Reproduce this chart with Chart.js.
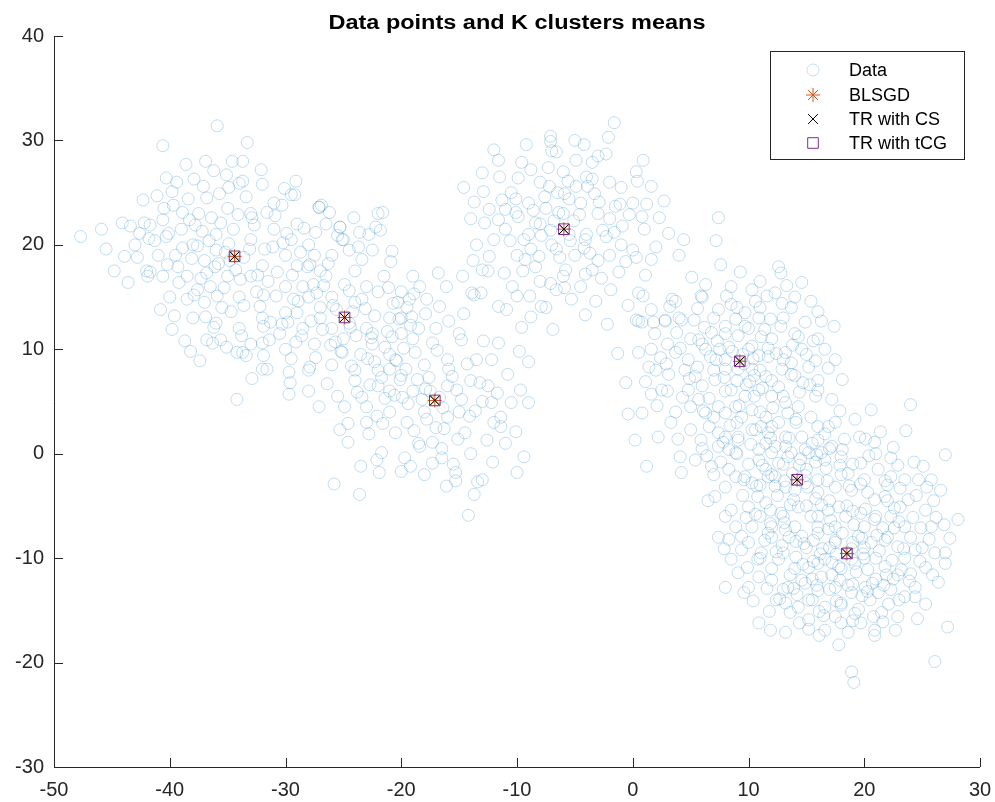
<!DOCTYPE html>
<html>
<head>
<meta charset="utf-8">
<title>Data points and K clusters means</title>
<script src="https://cdn.jsdelivr.net/npm/chart.js@4/dist/chart.umd.min.js"></script>
<style>
  html, body { margin: 0; padding: 0; background: #ffffff; }
  #wrap { width: 995px; height: 802px; }
</style>
</head>
<body>
<div id="wrap"><canvas id="c" width="995" height="802"></canvas></div>
<script>
// ---- sample points, grouped by the region of the plane they sit in ----
const groupNorthWest = [
  [-47.7,20.8],[-45.5,19.6],[-44.8,17.5],[-35.9,31.4],[-40.6,29.5],[-36.9,28.0],[-40.3,26.4],[-39.4,26.0],
  [-39.8,25.1],[-37.1,25.6],[-34.9,25.5],[-33.7,26.1],[-34.6,28.0],[-33.7,28.0],[-33.3,29.8],[-36.8,24.5],
  [-44.1,22.1],[-43.4,21.8],[-42.2,22.1],[-41.7,21.9],[-40.6,22.4],[-38.9,23.1],[-38.3,22.4],[-40.3,20.8],
  [-41.7,17.4],[-40.6,17.0],[-41.9,17.0],[-38.5,14.8],[-37.6,15.7],[-38.7,10.8],[-34.2,5.2],[-36.2,12.1],
  [-33.4,9.4],[-31.6,8.1],[-31.4,10.9],[-29.7,5.7],[-29.5,24.8],[-30.3,23.8],[-27.1,23.6],[-26.9,23.8],
  [-25.5,20.9],[-22.0,23.0],[-22.8,21.0],[-25.3,21.7],
  [-38,20],[-37,18.5],[-36,21],[-35,17],[-33,20.5],[-32,18],[-31,21.5],[-30,19],[-36.5,16],[-34,15],
  [-32.5,15.5],[-30,16],[-29,18],[-38.5,17],[-39.5,19],[-37.5,23],[-35,23.5],[-33,23],[-31,24],[-29,22],
  [-28,20],[-40,15],[-38,13],[-36,12.5],[-34,12],[-32,13],[-30,13.5],[-28,15],[-27,17.5],[-26,19],
  [-39,21.5],[-41,19],[-42,17.5],[-43,20],[-40.5,23.5],[-36,19.5],[-34.5,21.5],[-33,17],[-31.5,16.5],
  [-29.5,20.5],[-35.5,14],[-37,14.5],[-30.5,11.5],[-33,10.5],[-28.5,12],[-27,14],[-26.5,22],[-24.5,19.5],
  [-37.2,21.3],[-35.8,18.2],[-34.9,20.1],[-33.6,18.8],[-32.7,21.9],[-31.8,19.6],[-30.7,17.4],[-29.9,21.1],
  [-36.4,22.6],[-38.1,18.7],[-39.2,16.4],[-37.9,15.2],[-35.3,15.9],[-33.9,16.7],[-32.2,14.1],[-29.3,14.8],
  [-28.1,17.9],[-27.4,21.2],[-30.9,22.8],[-33.4,24.6],[-35.7,24.9],[-38.4,24.4],[-41.3,20.4],[-40.2,18.1],
  [-42.8,18.8],[-39.6,13.2],[-36.9,13.1],[-34.7,13.6],[-31.3,12.6],[-34.1,22.9],[-32.1,27.2],[-29.1,26.1],
  [-36.2,27.1],[-38.6,27.7],[-42.3,24.3],[-45.9,21.5],[-43.6,16.4],[-39.8,11.9],[-35.1,10.2],[-37.4,8.9],
  [-32.9,7.2],[-31.1,19.8],[-36.8,17.3],[-39.7,23.8],[-37.6,19.9],
  [-36.6,20.4],[-35.2,19.3],[-33.1,19.6],[-32.4,17.1],[-34.3,17.6],[-36.1,17.9],[-37.8,21.9],[-35.6,22.1],
  [-31.6,23.1],[-30.2,20.2],[-29.4,17.1],[-31.9,15.2],[-33.6,14.2],[-35.9,15.1],[-38.9,19.7],[-40.1,21.1],
  [-41.8,20.6],[-39.3,17.9],[-37.3,16.8],[-34.8,18.5],[-32.9,22.6],[-30.1,25.4],[-35.1,26.7],[-37.9,26.3],
  [-41.1,24.7],[-42.6,21.1],[-28.7,19.3],[-27.6,16.2],[-29.8,12.6],[-33.8,11.3],[-36.3,10.6],[-31.9,9.4],
  [-40.8,13.8],[-43.9,18.9],[-38.2,9.8]
];

const groupWest = [
  [-34,25.9],[-32,25.8],[-29.2,24.8],[-27.1,23.6],[-26.2,23.1],[-21.6,23.1],[-23.6,21.2],[-22.2,21.7],
  [-20.8,19.4],[-25.3,21.7],[-25.1,20.5],[-34.2,9.7],[-33.7,9.7],[-32,8.1],[-29.7,7.8],[-32,10.6],
  [-36.8,10.9],[-35.6,10.9],[-21.0,8.1],[-25.1,9.7],[-27.9,8.3],
  [-27,13],[-26,15],[-24,14.5],[-23,12],[-25,11],[-27.5,10.5],[-22,15.5],[-21,13],[-20,11.5],[-23.5,9.5],
  [-26,8.5],[-28,8],[-24,7],[-22,8],[-20.5,9],[-19.5,14],[-21.5,17],[-24,17.5],[-26.5,17],[-28.5,16],
  [-29,13.5],[-30,10],[-25.5,5.5],[-23,4.5],[-21,6],[-18.5,12],[-19,17],[-22.5,19.5],[-25,20.5],
  [-27.5,19],[-24.5,12.5],[-26,12],[-23,16],[-20,15.5],[-28,6],[-22.5,10.5],
  [-25.9,14.2],[-24.2,13.6],[-23.1,13.9],[-26.8,11.9],[-25.2,9.8],[-22.6,11.1],[-21.4,10.2],[-20.2,12.9],
  [-24.9,16.2],[-27.3,15.4],[-28.6,11.3],[-29.5,9.1],[-26.4,6.7],[-23.8,5.9],[-21.7,7.3],[-19.8,10.1],
  [-18.9,15.3],[-20.9,18.4],[-23.4,18.6],[-27.9,18.1],[-30.8,15.1],[-31.9,12.2],[-29.6,6.8],[-27.1,4.5],
  [-24.6,2.9],[-22.1,3.6],[-19.6,8.1],[-17.9,13.4],[-16.8,17.3],[-21.8,21.4],[-24.1,22.6],[-28.4,21.6],
  [-26.1,10.4],[-23.9,11.3],
  [-25.6,13.8],[-24.4,12.1],[-23.4,14.8],[-26.7,16.1],[-27.8,12.7],[-25.7,10.7],[-22.9,9.1],[-21.2,11.7],
  [-20.7,14.4],[-22.3,13.2],[-24.5,15.6],[-26.3,18.2],[-28.9,14.6],[-30.3,12.4],[-27.4,9.2],[-24.3,8.4],
  [-22.7,6.6],[-20.1,7.1],[-19.2,12.3],[-23.7,19.8],[-21.1,15.9],[-29.1,10.7]
];

const groupSouthWest = [
  [-13.7,15.2],[-11.6,10.6],[-12.2,9.0],[-9.8,9.8],[-9.0,8.8],[-9.7,6.1],[-10.5,4.9],[-9.0,4.9],
  [-12.2,4.9],[-11.4,3.5],[-10.1,2.1],[-9.4,-0.3],[-10.0,-1.8],[-13.4,-2.7],[-13.7,-3.9],[-15.3,-1.8],
  [-16.5,-0.4],[-19.7,-0.4],[-21.7,0.1],[-23.5,-1.2],[-21.9,-1.8],[-20,-1.7],[-23.6,-3.9],[-25.3,2.3],
  [-24.9,4.5],[-17.3,1.1],[-18.4,0.7],[-14.8,10.9],[-15.9,12.7],[-17.8,14.8],[-19.3,14.8],[-20.3,14.5],
  [-18.4,16.0],[-16.1,16.0],[-10.9,13.8],[-14.2,-5.9],[-25.8,-2.9],
  [-19,6],[-18,4],[-16,6.5],[-15,4],[-17,2.5],[-19.5,3],[-20,7.5],[-18,8.5],[-16,9],[-14,7],[-13,5],
  [-14.5,2],[-16.5,0.5],[-18.5,1],[-21,4],[-22,6.5],[-21,9.5],[-19,11],[-17,12],[-15,11.5],[-13.5,9],
  [-12,3],[-12.5,6.5],[-15.5,-1],[-20.5,2],[-23,3],[-18,-2],[-14,0],[-17.5,6],[-16,3.5],[-20,13],
  [-22.5,11.5],[-11,1],[-13,-2.5],[-24,8],
  [-18.2,5.2],[-16.4,4.4],[-15.2,6.1],[-17.6,7.3],[-19.4,4.8],[-20.6,5.6],[-14.1,3.6],[-13.2,6.8],
  [-16.9,9.9],[-18.8,9.7],[-20.8,11.2],[-22.3,8.8],[-21.6,2.9],[-19.2,-1.2],[-17.3,-0.9],[-15.1,1.4],
  [-12.6,1.3],[-11.7,5.8],[-12.9,10.8],[-14.6,13.4],[-16.7,14.1],[-19.1,13.1],[-23.4,5.4],[-24.6,1.1],
  [-22.1,-0.6],[-16.1,-3.1],[-12.1,-0.8],[-10.8,7.6],[-15.9,8.1],[-17.8,3.3],
  [-17.9,6.2],[-16.7,5.4],[-15.6,7.4],[-18.6,7.1],[-19.9,5.4],[-14.8,5.2],[-16.3,2.4],[-18.9,2.2],
  [-20.4,8.9],[-17.3,10.6],[-14.3,8.6],[-13.6,4.1],[-21.4,5.3],[-22.8,1.9],[-11.4,2.6],[-15.3,-2.6]
];

const groupNorth = [
  [-1.6,31.7],[-7.1,30.4],[-7.1,29.9],[-12.0,29.1],[-9.6,27.9],[-8.8,27.2],[-6.6,28.9],[-4.2,29.6],
  [-2.3,28.7],[-3.5,27.9],[0.3,27.0],[1.6,25.6],[-13.0,26.9],[-14.6,25.5],[-13.7,24.1],[-12.4,23.4],
  [-11.6,22.4],[-11,23.4],[0.8,22.7],[-0.9,21.8],[2.0,19.8],[1.6,18.6],[0.3,18.8],[-1.2,17.4],
  [-1.9,15.7],[-3.2,14.6],[-5.3,14.8],[-6.6,15.7],[-7.9,14.1],[-8.8,13.1],[-10.0,15.1],[-10.4,16.0],
  [-11.6,14.1],[-13.1,15.4],[-13.9,15.4],[-14.7,17.0],[-13.0,17.6],[-12.4,18.9],[-9.4,20.5],[-8.1,18.9],
  [-8.4,17.9],[-5.8,17.6],[-3.5,17.6],[-4.1,20.5],[-2.3,20.8],[-1.5,23.7],[-2.9,24.1],[-5.5,24.4],
  [-7.2,25.6],[-4.9,25.6],[-3.5,26.3],[-6.4,23.1],[-8.4,22.1],[-10.1,23.1],[-10.1,24.4],[0.5,15.4],
  [1.6,13.8],[3.4,14.8],[0.8,12.6],[2.8,12.8],[-2.2,12.4],[0.3,12.8],[4.4,20.5],[7.2,20.4],[7.4,22.6],
  [4.0,19.0],
  [-8,22],[-6,23],[-4,21],[-5,19],[-7,20],[-9,21],[-10,19],[-11,21.5],[-3,23],[-2,22.5],[-1,20],
  [-3,18.5],[-6,17],[-8,16.5],[-9.5,17.5],[-12,20.5],[-10.5,25],[-8,26],[-6,27],[-4,26.5],[-2,26],
  [0,24],[-1,25.5],[-6.5,25],[-4.5,24],[-9,24],[-11.5,26.5],[-7,29],[-5,30],[-3,28.5],[-2,19],
  [-4.5,16],[-7.5,14],[0,19.5],[1,21.5],[-13.5,20],[-14,22.5],[-12.5,17.5],[-5.5,21],[-7.5,23.5],
  [-7.1,21.4],[-5.1,22.3],[-4.2,19.7],[-6.3,18.8],[-8.8,19.6],[-9.9,22.7],[-7.6,24.6],[-5.6,26.1],
  [-3.3,24.9],[-1.6,21.2],[-0.3,22.9],[1.2,23.9],[-2.7,16.8],[-5.9,15.9],[-8.9,15.1],[-11.1,17.3],
  [-12.8,22.1],[-13.8,18.5],[-11.6,28.1],[-9.2,29.6],[-4.9,28.1],[-2.1,30.3],[0.9,28.1],[2.7,24.2],
  [3.1,21.1],[1.1,17.1],[-0.4,14.2],[-4.1,13.3],[-9.6,12.1],[-6.9,11.9],
  [-6.8,22.3],[-5.4,20.4],[-4.6,22.9],[-7.9,20.9],[-6.6,19.6],[-3.7,19.2],[-2.6,21.4],[-8.6,23.3],
  [-10.6,20.4],[-9.3,18.6],[-5.9,24.9],[-3.9,25.6],[-7.3,27.4],[-1.1,23.9],[-0.6,18.4],[-4.1,17.2],
  [-7.1,16.3],[-11.3,24.3],[-12.9,25.1],[0.4,26.1],[2.3,22.6],[-9.9,26.4]
];

const groupEast = [
  [7.6,18.1],[12.6,17.9],[12.8,17.3],[14.6,16.4],[6.3,16.2],[10.3,15.7],[12.3,15.4],[0.9,15.1],
  [3.7,14.6],[5.9,15.1],[13.7,14.0],[16.0,13.6],[16.3,12.7],[0.5,12.7],[1.8,12.6],[2.8,12.7],[4.2,12.8],
  [5.3,12.8],[7.4,13.8],[8.5,14.3],[9.7,13.5],[10.9,13.0],[12.8,12.2],[14.3,11.2],[-0.6,6.8],[0.8,3.9],
  [1.6,5.7],[2.5,6.1],[3.1,7.6],[0.5,9.7],[1.6,10.0],[2.4,9.2],[3.7,9.7],[1.4,8.3],[1.2,-1.2],[4.1,-0.3],
  [5.0,2.3],[3.3,3.0],[3.7,4.0],[6.3,3.9],[7.4,4.5],[5.7,5.2],[4.8,6.1],[5.4,7.4],[4.8,9.0],[6.3,10.0],
  [5.7,10.9],[6.8,11.6],[8.0,12.2],[9.7,12.2],[11.1,11.2],[10.3,10.3],[11.7,9.3],[13.2,9.7],[14.6,10.0],
  [13.7,8.7],[15.2,8.3],[16.6,10.0],[17.5,9.0],[16.0,6.1],[17.2,5.2],[15.8,5.5],[14.7,6.8],[13.7,7.6],
  [12.6,6.4],[11.5,7.4],[10.3,8.1],[8.0,8.1],[7.2,9.0],[8.5,6.1],[9.7,5.5],[10.9,6.1],[12.0,5.5],
  [13.2,4.9],[14.3,4.5],[10.3,4.2],[8.9,4.5],[8.0,3.9],[9.4,3.5],[11.5,3.5],[12.6,3.0],[14.1,3.0],
  [15.4,3.5],[16.9,2.6],[16.0,1.3],[14.6,1.6],[13.2,1.6],[11.7,2.0],[10.6,2.3],[9.1,1.6],[7.4,2.0],
  [6.6,2.6],[5.9,1.3],[7.4,0.7],[8.9,0.1],[10.9,0.4],[12.3,0.7],[13.7,0.1],[14.9,0.4],[16.3,0.1],
  [17.2,0.7],[4.2,-1.8],[5.4,-0.6],[6.8,-1.2],[8.3,-1.5],[9.7,-2.2],[11.5,-1.5],[12.3,-2.2],
  [8,9],[10,10],[11,8],[9,7],[7,8],[6,10.5],[8,11.5],[10,12],[12,11],[13,9],[12,7],[10.5,5.5],[8,6],
  [6,6.5],[4.5,8],[5,11],[7,13],[9,14],[11,14],[13,13],[14,11.5],[15,9.5],[14,7.5],[13,5.5],[11,4],
  [9,3],[7,3.5],[5,4.5],[3,6],[3,10.5],[4,13],[6,15],[8.5,16],[11,16.5],[14,15],[16,11],[16,7],[2,8],
  [9.5,9.5],[7.5,10],[10.5,7.5],
  [9.1,8.1],[10.4,9.1],[8.3,10.2],[7.1,7.1],[11.7,10.1],[12.9,8.1],[11.2,6.3],[9.8,6.6],[6.7,9.3],
  [5.6,8.3],[4.1,10.1],[6.2,12.1],[8.9,12.9],[11.9,12.9],[13.8,10.4],[15.6,10.8],[16.9,8.2],[15.3,6.6],
  [13.4,3.9],[11.1,2.6],[8.4,2.7],[6.1,4.1],[4.3,5.4],[2.1,4.6],[1.9,11.5],[3.2,14.1],[5.1,16.9],
  [9.3,17.4],[11.6,15.1],[13.3,16.1],[15.4,14.6],[17.4,12.2],[18.1,7.1],[17.9,4.1],[2.2,1.6],[0.2,1.3],
  [-0.4,3.8],[-1.3,9.6],
  [9.6,8.6],[8.6,9.8],[10.9,9.4],[10.1,6.9],[7.9,7.3],[7.3,10.8],[9.1,11.3],[11.4,11.9],[12.4,9.6],
  [12.1,4.4],[9.2,4.6],[6.6,5.3],[4.9,7.2],[3.8,11.6],[5.6,13.9],[8.1,15.1],[10.6,14.6],[12.9,14.4],
  [14.9,12.6],[15.8,8.9],[14.4,5.9],[11.9,1.5],[7.8,1.1],[3.9,1.4],[1.1,6.9],[2.9,8.6],[6.4,-0.2]
];

const groupSouthEast = [
  [24.0,4.7],[20.6,4.2],[27.0,-0.1],[28.1,-6.3],[27.2,-16.6],[26.1,-19.9],[18.9,-20.9],[19.1,-21.9],
  [17.8,-18.3],[13.2,-17.1],[11.9,-16.9],[10.9,-16.2],[8.0,-12.8],[9.6,-13.3],[7.4,-8.0],
  [10.3,2.3],[12.0,2.6],[14.1,3.3],[16.0,2.6],[17.5,3.0],[19.2,3.3],[20.9,1.1],[22.5,0.6],[23.5,-2.5],
  [24.7,-2.5],[25.8,-2.5],[26.6,-3.5],[23.8,-4.4],[25.3,-5.4],[25.8,-7.0],[26.1,-9.5],[27.0,-9.5],
  [27.0,-10.5],[25.3,-10.9],[24.4,-12.8],[25.3,-14.4],[23.5,-13.7],[22.9,-15.6],[21.5,-15.2],
  [20.9,-16.9],[20.9,-17.4],[19.7,-16.2],[18.0,-16.2],[16.6,-16.9],[15.2,-15.9],[14.3,-14.7],
  [13.2,-14.3],[12.4,-14.0],[10.0,-12.8],[9.1,-11.4],[10.9,-11.8],[8.5,-10.1],[9.4,-9.2],[8.3,-8.2],
  [8.9,-7.0],[8.0,-6.0],[8.5,-5.4],[8.0,-3.2],[8.9,-2.2],[8.3,0.4],[9.1,1.3],[8.0,1.6],
  [10.9,-0.6],[12.0,0.1],[13.4,-0.3],[15.2,0.1],[16.6,-0.6],[18.0,-0.3],[19.7,-0.9],[21.2,-1.5],
  [22.3,-2.2],[10.3,-2.8],[11.7,-2.2],[13.2,-3.2],[14.9,-2.8],[16.0,-3.7],[17.5,-3.2],[18.9,-3.5],
  [20.3,-3.7],[21.8,-4.1],[10.0,-5.1],[11.5,-4.7],[12.8,-5.7],[14.3,-5.1],[15.4,-6.0],[16.9,-5.4],
  [18.4,-6.0],[19.7,-5.7],[20.9,-6.3],[22.3,-6.0],[23.5,-7.0],[10.3,-7.0],[11.7,-7.6],[13.2,-7.3],
  [14.6,-7.9],[16.0,-7.6],[17.5,-8.3],[19.5,-7.9],[20.6,-8.5],[21.8,-8.3],[22.9,-8.9],[24.4,-9.2],
  [11.1,-9.5],[12.6,-10.1],[14.1,-9.9],[15.2,-10.9],[16.6,-10.1],[17.8,-10.8],[19.2,-10.5],[20.3,-11.1],
  [21.8,-10.8],[23.2,-11.1],[12.0,-12.1],[13.4,-12.8],[14.9,-12.4],[16.0,-13.1],[17.5,-12.8],
  [18.9,-13.3],[20.1,-12.8],[21.2,-13.3],[22.3,-13.0],[15.2,-14.0],[16.6,-14.7],[18.0,-14.3],
  [19.5,-14.9],[17.5,-15.6],
  [12,-2],[13,-1],[15,-1.5],[16,-2.5],[14,-3.5],[12.5,-4],[11,-3],[10,-1],[11.5,1],[13.5,1.5],[15.5,1],
  [17,0.5],[18,-2],[17,-4.5],[15,-5],[13,-6],[11,-6],[9.5,-4],[9,0],[19,-1],[20,-2.5],[18.5,-5],[16,-7],
  [13.5,-8],[10,-8.5],[21,0],[22,-3],[7,-2],[6,0.5],[6.5,-4.5],[14.5,-0.5],[12,-7],
  [17,-9],[19,-8.5],[20,-10],[18,-11],[16,-10.5],[15,-9],[17.5,-7],[20,-7],[22,-8],[21,-10],[21,-12],
  [19,-12.5],[17,-13],[15.5,-12],[14,-11],[13,-9.5],[12,-8],[14,-7],[16,-6],[19,-5.5],[21,-6],[23,-6.5],
  [24,-8],[23.5,-10],[22.5,-12],[20.5,-14],[18,-14.5],[15.5,-14],[13,-13],[12,-11],[19,-16],[16.5,-15.5],
  [25,-9],[24,-11.5],[23,-14],[18.5,-9.5],[17.5,-8.5],[20,-9],[11,-10],[26,-4.5],[24.5,-4],[22,-4.5],
  [13.1,-2.6],[15.1,-3.2],[14.4,-1.1],[12.6,-0.9],[16.7,-1.4],[17.9,-1.1],[18.7,-3.1],[17.1,-6.4],
  [15.8,-4.3],[13.6,-4.9],[11.9,-5.4],[10.8,-4.1],[9.6,-2.5],[9.8,-6.1],[11.4,-8.3],[12.9,-8.8],
  [14.8,-8.6],[16.4,-9.1],[17.2,-10.4],[18.9,-9.1],[19.8,-8.1],[21.3,-9.3],[22.4,-10.2],[21.9,-11.6],
  [20.7,-12.4],[19.3,-11.3],[17.9,-12.1],[16.3,-11.8],[14.7,-10.6],[13.6,-11.6],[12.7,-13.9],[14.2,-13.5],
  [16.1,-15.1],[17.6,-14.1],[19.2,-15.3],[20.8,-15.6],[22.1,-14.4],[23.9,-12.2],[24.8,-10.3],[25.6,-8.2],
  [24.2,-6.1],[23.1,-5.1],[21.6,-7.1],[20.1,-5.3],[22.9,-1.1],[24.3,-0.8],[21.4,2.1],[19.6,1.6],
  [18.3,1.4],[16.6,1.9],[10.2,0.9],[7.6,-0.8],[7.1,-4.1],[7.9,-9.1],[9.9,-10.9],[11.8,-15.1],
  [14.4,-16.2],[16.1,-17.4],[22.7,-16.9],[24.6,-15.8],[26.4,-12.3],[26.9,-6.8],[25.1,-1.2],[23.6,2.2],
  [13.8,-1.9],[14.9,-2.1],[15.8,-0.8],[12.3,-3.1],[13.9,-4.4],[16.3,-4.9],[17.8,-5.1],[16.8,-2.6],
  [18.6,-1.9],[19.7,-2.9],[20.9,-4.4],[19.1,-6.8],[18.1,-7.6],[16.9,-7.2],[15.6,-8.3],[14.1,-8.4],
  [13.1,-6.6],[11.9,-6.7],[10.6,-5.8],[10.7,-3.1],[11.2,-1.1],[13.2,0.7],[15.9,-0.1],[18.1,0.4],
  [20.4,-0.2],[21.8,-2.6],[22.6,-5.2],[21.1,-7.8],[19.9,-9.6],[18.9,-10.1],[17.6,-9.6],[16.2,-9.6],
  [15.6,-10.3],[14.6,-12.1],[15.9,-12.6],[17.2,-11.6],[18.6,-12.6],[19.8,-13.6],[21.7,-12.6],[22.9,-11.6],
  [23.4,-9.1],[22.6,-7.1],[24.9,-7.1],[25.9,-11.6],[21.6,-16.1],[18.6,-17.1],[15.2,-16.8],[13.6,-15.2],
  [10.4,-14.1],[11.6,-12.9],[9.4,-7.9],[10.8,-10.1],[12.4,-9.4],[13.9,-12.9],[20.3,-13.2],[23.1,-3.3],
  [25.4,-3.2],[26.2,-6.1],[27.4,-8.1],[24.4,-13.7],[20.1,1.4],[22.3,-0.4]
];

// ---- cluster means found by each method ----
const blsgdX = [-34.4, -24.9, -17.1, -5.95, 9.25, 14.2, 18.5];
const blsgdY = [18.9, 13.05, 5.1, 21.5, 8.85, -2.5, -9.55];
const trCsX  = [-34.4, -24.9, -17.1, -5.95, 9.25, 14.2, 18.5];
const trCsY  = [18.9, 13.05, 5.1, 21.5, 8.85, -2.5, -9.55];
const trTcgX = [-34.4, -24.9, -17.1, -5.95, 9.25, 14.2, 18.5];
const trTcgY = [18.9, 13.05, 5.1, 21.5, 8.85, -2.5, -9.55];

// ---- axis ticks ----
const xTicks = [-50, -40, -30, -20, -10, 0, 10, 20, 30];
const yTicks = [-30, -20, -10, 0, 10, 20, 30, 40];

const chartTitle = 'Data points and K clusters means';
const seriesNames = ['Data', 'BLSGD', 'TR with CS', 'TR with tCG'];

const axisColor = '#262626';
const textFont = '"Liberation Sans", Arial, Helvetica, sans-serif';

const allPoints = [].concat(groupNorthWest, groupWest, groupSouthWest, groupNorth, groupEast, groupSouthEast)
  .map(p => ({ x: p[0], y: p[1] }));
const zip = (xs, ys) => xs.map((x, i) => ({ x: x, y: ys[i] }));

// Draws one legend marker in the same style as the dataset uses.
function drawMarker(ctx, style, x, y, r, color, lw) {
  ctx.save();
  ctx.strokeStyle = color;
  ctx.lineWidth = lw;
  ctx.beginPath();
  if (style === 'circle') {
    ctx.arc(x, y, r, 0, Math.PI * 2);
  } else if (style === 'star') {
    for (let k = 0; k < 4; k++) {
      const a = k * Math.PI / 4;
      ctx.moveTo(x - Math.cos(a) * r, y - Math.sin(a) * r);
      ctx.lineTo(x + Math.cos(a) * r, y + Math.sin(a) * r);
    }
  } else if (style === 'crossRot') {
    const d = r * Math.SQRT1_2;
    ctx.moveTo(x - d, y - d); ctx.lineTo(x + d, y + d);
    ctx.moveTo(x - d, y + d); ctx.lineTo(x + d, y - d);
  } else if (style === 'rect') {
    const d = r * Math.SQRT1_2;
    ctx.rect(x - d, y - d, 2 * d, 2 * d);
  }
  ctx.stroke();
  ctx.restore();
}

// Axis lines, inward tick marks, title and boxed legend.
const decorations = {
  id: 'decorations',
  afterDraw(chart) {
    const ctx = chart.ctx;
    const area = chart.chartArea;
    const xs = chart.scales.x, ys = chart.scales.y;
    ctx.save();
    ctx.strokeStyle = axisColor;
    ctx.lineWidth = 1;
    ctx.beginPath();
    ctx.moveTo(area.left + 0.5, area.top);
    ctx.lineTo(area.left + 0.5, area.bottom + 0.5);
    ctx.lineTo(area.right, area.bottom + 0.5);
    const tl = 9;
    xTicks.forEach(v => {
      const px = Math.round(xs.getPixelForValue(v)) + 0.5;
      ctx.moveTo(px, area.bottom);
      ctx.lineTo(px, area.bottom - tl);
    });
    yTicks.forEach(v => {
      const py = Math.round(ys.getPixelForValue(v)) + 0.5;
      ctx.moveTo(area.left, py);
      ctx.lineTo(area.left + tl, py);
    });
    ctx.stroke();

    // title, drawn to span the measured width above the plot
    ctx.fillStyle = '#000000';
    ctx.font = 'bold 20px ' + textFont;
    ctx.textAlign = 'center';
    ctx.textBaseline = 'alphabetic';
    const tw = ctx.measureText(chartTitle).width;
    const sx = 377 / tw;
    ctx.save();
    ctx.translate((area.left + area.right) / 2, 29);
    ctx.scale(sx, 1);
    ctx.fillText(chartTitle, 0, 0);
    ctx.restore();

    // legend box
    const bx = 770, by = 51, bw = 194, bh = 108;
    ctx.fillStyle = '#ffffff';
    ctx.fillRect(bx, by, bw, bh);
    ctx.strokeStyle = axisColor;
    ctx.lineWidth = 1;
    ctx.strokeRect(bx + 0.5, by + 0.5, bw, bh);
    const rows = [70, 95, 119, 143];
    ctx.font = '18px ' + textFont;
    ctx.textAlign = 'left';
    ctx.textBaseline = 'middle';
    chart.data.datasets.forEach((ds, i) => {
      const y = rows[i];
      drawMarker(ctx, ds.pointStyle, 813, y, ds.legendRadius, ds.legendColor, ds.pointBorderWidth);
      ctx.fillStyle = '#000000';
      ctx.fillText(ds.label, 849, y + 1);
    });
    ctx.restore();
  }
};

new Chart(document.getElementById('c'), {
  type: 'scatter',
  data: {
    datasets: [
      {
        label: seriesNames[0],
        data: allPoints,
        pointStyle: 'circle',
        pointRadius: 6,
        pointHoverRadius: 6,
        pointBorderWidth: 1,
        pointBorderColor: 'rgba(0,114,189,0.24)',
        pointBackgroundColor: 'rgba(0,0,0,0)',
        legendRadius: 6,
        legendColor: 'rgba(0,114,189,0.22)',
        order: 4
      },
      {
        label: seriesNames[1],
        data: zip(blsgdX, blsgdY),
        pointStyle: 'star',
        pointRadius: 7,
        pointHoverRadius: 7,
        pointBorderWidth: 1,
        pointBorderColor: '#D95319',
        pointBackgroundColor: '#D95319',
        legendRadius: 7,
        legendColor: '#D95319',
        order: 3
      },
      {
        label: seriesNames[2],
        data: zip(trCsX, trCsY),
        pointStyle: 'crossRot',
        pointRadius: 7,
        pointHoverRadius: 7,
        pointBorderWidth: 1,
        pointBorderColor: '#000000',
        pointBackgroundColor: '#000000',
        legendRadius: 7,
        legendColor: '#000000',
        order: 2
      },
      {
        label: seriesNames[3],
        data: zip(trTcgX, trTcgY),
        pointStyle: 'rect',
        pointRadius: 7.5,
        pointHoverRadius: 7.5,
        pointBorderWidth: 1,
        pointBorderColor: '#7E2F8E',
        pointBackgroundColor: 'rgba(0,0,0,0)',
        legendRadius: 7.5,
        legendColor: '#7E2F8E',
        order: 1
      }
    ]
  },
  options: {
    responsive: false,
    animation: false,
    events: [],
    layout: { padding: { top: 36, right: 15, left: 0, bottom: 0 } },
    plugins: {
      legend: { display: false },
      title: { display: false },
      tooltip: { enabled: false }
    },
    scales: {
      x: {
        type: 'linear',
        min: -50, max: 30,
        afterBuildTicks(scale) { scale.ticks = xTicks.map(v => ({ value: v })); },
        afterFit(scale) {
          scale.height = 35;
          scale.paddingLeft = 0;
          scale.paddingRight = 0;
        },
        grid: { display: false, drawTicks: false },
        border: { display: false },
        ticks: {
          color: axisColor,
          font: { family: textFont, size: 20 },
          padding: 11,
          maxRotation: 0,
          autoSkip: false
        }
      },
      y: {
        type: 'linear',
        min: -30, max: 40,
        afterBuildTicks(scale) { scale.ticks = yTicks.map(v => ({ value: v })); },
        afterFit(scale) {
          scale.width = 54;
          scale.paddingTop = 0;
          scale.paddingBottom = 0;
        },
        grid: { display: false, drawTicks: false },
        border: { display: false },
        ticks: {
          color: axisColor,
          font: { family: textFont, size: 20 },
          padding: 10,
          autoSkip: false
        }
      }
    }
  },
  plugins: [decorations]
});
</script>
</body>
</html>
